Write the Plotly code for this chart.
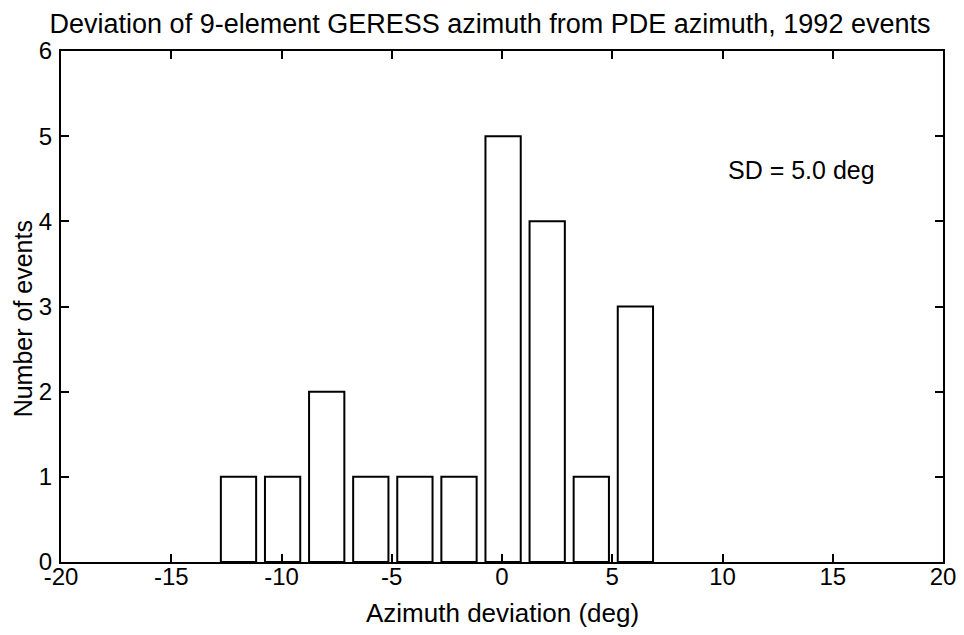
import plotly.graph_objects as go

# histogram bin centres (deg) and counts
bin_centres = [-11.95, -9.95, -7.95, -5.95, -3.95, -1.95, 0.05, 2.05, 4.05, 6.05]
counts = [1, 1, 2, 1, 1, 1, 5, 4, 1, 3]
bar_width = 1.6

x_ticks = [-20, -15, -10, -5, 0, 5, 10, 15, 20]
x_labels = ["-20", "-15", "-10", "-5", "0", "5", "10", "15", "20"]
y_ticks = [0, 1, 2, 3, 4, 5, 6]

font = "Liberation Sans, Arial, Helvetica, sans-serif"

fig = go.Figure()
fig.add_trace(go.Bar(
    x=bin_centres, y=counts, width=bar_width,
    marker=dict(color="white", line=dict(color="black", width=2)),
))

fig.add_annotation(
    x=10.15, y=4.6, xref="x", yref="y", text="SD = 5.0 deg",
    showarrow=False, xanchor="left", yanchor="middle",
    font=dict(family=font, size=25, color="black"),
)
# axis titles placed as annotations
fig.add_annotation(
    x=0.5, y=-0.1, xref="paper", yref="paper", text="Azimuth deviation (deg)",
    showarrow=False, xanchor="center", yanchor="middle",
    font=dict(family=font, size=26, color="black"),
)
fig.add_annotation(
    x=-0.043, y=0.475, xref="paper", yref="paper", text="Number of events",
    showarrow=False, xanchor="center", yanchor="middle", textangle=-90,
    font=dict(family=font, size=25, color="black"),
)

axis_common = dict(
    showgrid=False, zeroline=False, showline=True, mirror="allticks",
    linecolor="black", linewidth=2, ticks="inside", ticklen=8,
    tickwidth=1.5, tickcolor="black", automargin=False,
    tickfont=dict(family=font, size=24, color="black"),
)

fig.update_layout(
    width=964, height=635,
    paper_bgcolor="white", plot_bgcolor="white",
    margin=dict(l=53, r=29, t=43, b=81),
    showlegend=False,
    title=dict(
        text="Deviation of 9-element GERESS azimuth from PDE azimuth, 1992 events",
        x=0.5, xanchor="center", y=0.975, yanchor="middle",
        font=dict(family=font, size=27, color="black"),
    ),
    xaxis=dict(range=[-20, 20], tickvals=x_ticks, ticktext=x_labels,
               ticklabelstandoff=-8, **axis_common),
    yaxis=dict(range=[0, 6], tickvals=y_ticks, ticklabelstandoff=2, **axis_common),
)

fig.write_html("out.html")
